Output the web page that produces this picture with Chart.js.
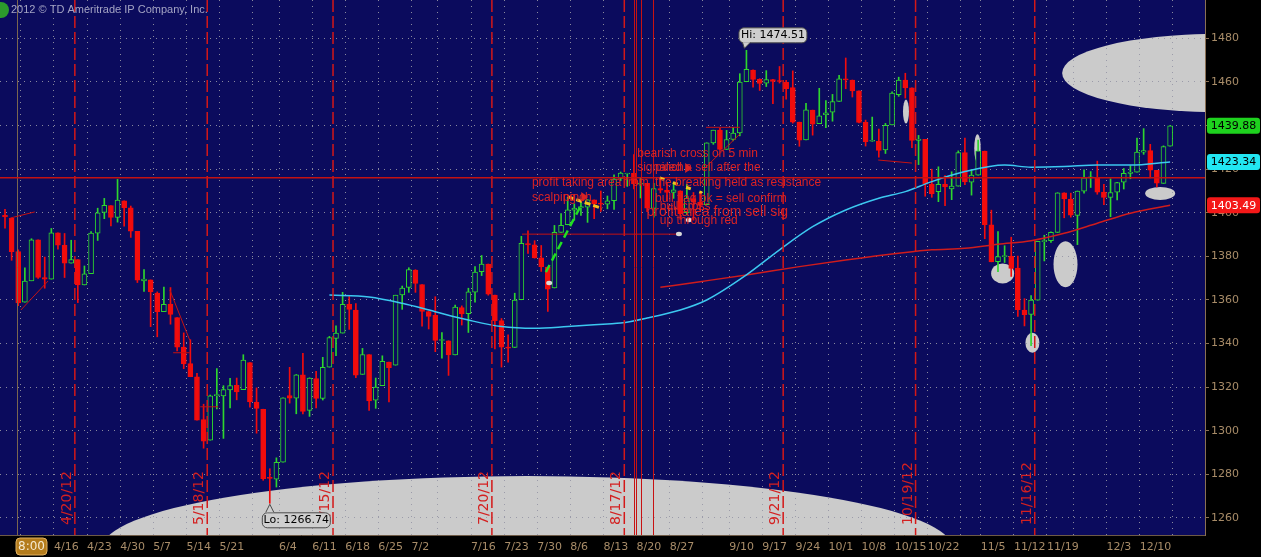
<!DOCTYPE html>
<html>
<head>
<meta charset="utf-8">
<script src="https://cdn.jsdelivr.net/npm/chart.js@4.4.0/dist/chart.umd.min.js"></script>
<style>
  html, body { margin: 0; padding: 0; background: #000; }
  #wrap { width: 1261px; height: 557px; }
</style>
</head>
<body>
<div id="wrap"><canvas id="spxChart" width="1261" height="557"></canvas></div>
<script>
// ---- daily bars (one entry per trading day) ----
const dates = [
  '4/5','4/9','4/10','4/11','4/12','4/13','4/16','4/17','4/18','4/19','4/20','4/23','4/24','4/25','4/26','4/27','4/30',
  '5/1','5/2','5/3','5/4','5/7','5/8','5/9','5/10','5/11','5/14','5/15','5/16','5/17','5/18','5/21','5/22','5/23','5/24','5/25',
  '5/29','5/30','5/31','6/1','6/4','6/5','6/6','6/7','6/8','6/11','6/12','6/13','6/14','6/15','6/18','6/19','6/20','6/21','6/22',
  '6/25','6/26','6/27','6/28','6/29','7/2','7/3','7/5','7/6','7/9','7/10','7/11','7/12','7/13','7/16','7/17','7/18','7/19','7/20',
  '7/23','7/24','7/25','7/26','7/27','7/30','7/31','8/1','8/2','8/3','8/6','8/7','8/8','8/9','8/10','8/13','8/14','8/15','8/16','8/17',
  '8/20','8/21','8/22','8/23','8/24','8/27','8/28','8/29','8/30','8/31','9/4','9/5','9/6','9/7','9/10','9/11','9/12','9/13','9/14',
  '9/17','9/18','9/19','9/20','9/21','9/24','9/25','9/26','9/27','9/28','10/1','10/2','10/3','10/4','10/5','10/8','10/9','10/10','10/11','10/12',
  '10/15','10/16','10/17','10/18','10/19','10/22','10/23','10/24','10/25','10/26','10/31','11/1','11/2','11/5','11/6','11/7','11/8','11/9',
  '11/12','11/13','11/14','11/15','11/16','11/19','11/20','11/21','11/23','11/26','11/27','11/28','11/29','11/30',
  '12/3','12/4','12/5','12/6','12/7','12/10','12/11','12/12','12/13','12/14','12/17','12/18'
];
const openP = [
  1398.8,1397.5,1382.2,1359.0,1368.8,1387.6,1370.3,1369.6,1390.8,1385.1,1376.9,1378.5,1366.9,1372.1,1390.6,1400.2,1403.3,
  1397.9,1405.5,1402.3,1391.5,1368.8,1369.2,1363.2,1354.6,1358.1,1351.9,1338.4,1330.8,1324.8,1305.1,1295.7,1316.1,1316.0,1318.7,1320.8,
  1318.9,1331.3,1313.1,1309.9,1278.3,1277.8,1285.6,1316.1,1315.0,1325.7,1309.4,1324.0,1314.9,1329.2,1342.4,1344.8,1358.0,1355.4,1325.9,
  1334.9,1314.1,1320.7,1331.5,1330.1,1362.3,1365.8,1373.7,1367.1,1354.7,1353.0,1341.4,1341.3,1334.8,1356.5,1353.7,1363.6,1373.0,1376.5,
  1362.3,1350.5,1338.4,1338.2,1360.1,1385.9,1385.3,1379.3,1375.1,1365.5,1391.0,1394.5,1401.2,1402.3,1402.6,1405.9,1404.4,1403.9,1405.6,1415.8,
  1417.8,1418.1,1413.1,1413.5,1402.0,1411.1,1410.4,1409.3,1410.1,1400.1,1406.5,1404.9,1403.7,1432.1,1437.9,1429.1,1433.6,1436.6,1460.1,
  1465.4,1461.2,1459.5,1461.1,1460.3,1459.8,1457.4,1441.6,1433.4,1447.1,1440.9,1445.0,1446.1,1451.1,1461.4,1460.9,1455.9,1441.5,1432.8,1432.8,
  1428.8,1440.3,1454.2,1460.9,1457.3,1433.2,1433.7,1413.2,1409.7,1413.0,1411.0,1412.2,1427.6,1414.0,1417.3,1428.3,1394.5,1377.6,
  1379.9,1380.0,1374.6,1355.4,1353.4,1359.9,1386.8,1387.2,1391.0,1409.2,1406.3,1398.8,1409.9,1416.0,
  1416.3,1409.5,1407.1,1409.4,1414.0,1418.1,1418.6,1427.8,1428.5,1419.5,1413.5,1430.5
];
const highP = [
  1401.6,1397.5,1383.0,1374.7,1388.1,1387.6,1379.7,1392.8,1390.8,1390.5,1387.4,1378.5,1375.6,1391.4,1402.1,1406.6,1403.3,
  1415.3,1405.5,1403.1,1391.5,1373.9,1369.2,1363.7,1365.9,1365.7,1351.9,1344.9,1341.8,1326.4,1312.2,1316.4,1328.5,1320.7,1324.1,1324.2,
  1334.9,1331.3,1319.7,1309.9,1282.6,1287.6,1315.1,1329.1,1325.8,1335.5,1324.3,1327.3,1333.7,1343.3,1348.2,1363.5,1361.6,1358.3,1337.8,
  1334.9,1324.2,1334.4,1331.5,1362.2,1366.4,1374.8,1373.9,1367.1,1354.9,1361.5,1345.0,1341.3,1357.7,1357.3,1365.4,1375.3,1380.4,1376.5,
  1362.3,1351.5,1344.0,1363.1,1389.2,1391.7,1387.2,1385.0,1375.1,1394.2,1399.6,1407.1,1404.1,1406.0,1406.0,1405.9,1410.0,1407.7,1417.4,1418.7,
  1418.1,1426.7,1416.1,1413.5,1413.5,1416.2,1413.6,1414.0,1410.1,1413.1,1409.3,1408.8,1432.1,1437.9,1438.7,1437.8,1439.2,1463.8,1474.51,
  1465.6,1461.5,1465.2,1461.2,1467.1,1460.7,1465.1,1441.6,1450.2,1447.1,1457.1,1451.5,1454.3,1463.1,1471.0,1460.9,1455.9,1442.5,1443.9,1438.4,
  1441.0,1455.5,1462.2,1464.0,1457.3,1435.5,1433.7,1420.0,1421.1,1417.1,1418.8,1428.4,1434.3,1419.9,1433.4,1428.3,1401.2,1391.4,
  1384.9,1388.8,1380.1,1360.6,1362.0,1386.9,1389.7,1391.3,1409.2,1409.2,1409.0,1410.0,1419.7,1418.9,
  1423.7,1413.1,1415.6,1414.0,1420.3,1421.6,1434.3,1438.6,1431.4,1419.5,1430.7,1440.0
];
const lowP = [
  1392.9,1378.2,1357.4,1359.0,1368.8,1369.9,1365.4,1369.6,1383.3,1370.3,1376.9,1358.8,1366.9,1372.1,1387.3,1397.3,1394.0,
  1395.7,1393.9,1388.7,1368.0,1363.9,1347.8,1343.1,1354.6,1348.9,1336.6,1328.5,1324.8,1304.9,1292.0,1295.7,1310.0,1296.5,1310.5,1314.2,
  1318.9,1310.8,1298.9,1277.3,1266.74,1274.2,1285.6,1312.7,1307.8,1307.7,1306.6,1310.5,1314.1,1329.2,1334.5,1344.8,1346.5,1324.4,1325.9,
  1309.3,1310.3,1320.7,1313.3,1330.1,1355.7,1363.5,1363.5,1348.0,1346.7,1336.3,1333.3,1325.4,1334.8,1348.5,1345.1,1359.0,1371.2,1362.2,
  1337.6,1329.2,1331.5,1338.2,1360.1,1381.4,1379.2,1373.1,1354.7,1365.5,1391.0,1394.5,1396.6,1398.8,1395.6,1397.3,1400.6,1401.8,1401.5,1414.7,
  1412.1,1410.9,1406.8,1400.5,1398.0,1409.1,1405.6,1406.6,1397.0,1399.0,1396.6,1401.3,1403.7,1431.4,1428.9,1429.1,1433.0,1435.3,1460.1,
  1457.6,1456.1,1457.9,1450.0,1459.5,1452.1,1441.1,1430.5,1433.4,1435.6,1440.9,1439.0,1442.0,1451.1,1456.9,1453.1,1441.2,1430.6,1432.8,1425.5,
  1427.2,1440.3,1453.4,1452.6,1429.9,1422.1,1407.6,1407.1,1405.1,1403.3,1406.0,1412.2,1412.9,1408.1,1417.3,1388.1,1377.5,1373.0,
  1377.2,1370.8,1352.5,1348.1,1339.0,1359.9,1377.9,1386.4,1391.0,1397.7,1398.0,1385.4,1409.0,1411.6,
  1408.5,1403.7,1398.2,1405.9,1410.9,1415.6,1418.6,1426.8,1416.0,1411.9,1413.5,1430.5
];
const closeP = [
  1398.1,1382.2,1358.6,1368.7,1387.6,1370.3,1369.6,1390.8,1385.1,1376.9,1378.5,1366.9,1372.0,1390.7,1400.0,1403.4,1397.9,
  1405.8,1402.3,1391.6,1369.1,1369.6,1363.7,1354.6,1358.0,1353.4,1338.4,1330.7,1324.8,1304.9,1295.2,1316.0,1316.6,1318.9,1320.7,1317.8,
  1332.4,1313.3,1310.3,1278.0,1278.2,1285.5,1315.1,1315.0,1325.7,1308.9,1324.2,1314.9,1329.1,1342.8,1344.8,1358.0,1355.7,1325.5,1335.0,
  1313.7,1320.0,1331.9,1329.0,1362.2,1365.5,1374.0,1367.6,1354.7,1352.5,1341.5,1341.5,1334.8,1356.8,1353.6,1363.7,1372.8,1376.5,1362.7,
  1350.5,1338.3,1337.9,1360.0,1386.0,1385.3,1379.3,1375.3,1365.0,1391.0,1394.2,1401.4,1402.2,1402.8,1405.9,1404.1,1403.9,1405.5,1415.5,1418.2,
  1418.1,1413.2,1413.5,1402.1,1411.1,1410.4,1409.3,1410.5,1399.5,1406.6,1404.9,1403.4,1432.1,1437.9,1429.1,1433.6,1436.6,1460.0,1465.8,
  1461.2,1459.3,1461.1,1460.3,1460.2,1456.9,1441.6,1433.3,1447.2,1440.7,1444.5,1445.8,1451.0,1461.4,1460.9,1455.9,1441.5,1432.6,1432.8,1428.6,
  1440.1,1454.9,1460.9,1457.3,1433.2,1433.8,1413.1,1408.8,1413.0,1411.9,1412.2,1427.6,1414.2,1417.3,1428.4,1394.5,1377.5,1379.9,
  1380.0,1374.5,1355.5,1353.3,1359.9,1386.9,1387.2,1391.0,1409.2,1406.3,1398.9,1409.9,1416.0,1416.2,
  1409.5,1407.1,1409.3,1413.9,1418.1,1418.6,1427.8,1428.5,1419.5,1413.6,1430.4,1439.88
];

// ---- moving averages (bar index, value) ----
const sma50Idx = [49, 55, 60, 65, 70, 75, 80, 85, 91, 93, 97, 102, 106, 112, 117, 122, 127, 132, 136, 140, 145, 151, 155, 160, 165, 170, 176];
const sma50Val = [1362.3, 1361.4, 1358.5, 1354.6, 1350.8, 1347.8, 1347.0, 1347.8, 1349.0, 1349.4, 1351.7, 1355.4, 1360.0, 1371.5, 1383.0, 1393.6, 1401.3, 1406.7, 1409.7, 1414.3, 1418.9, 1421.9, 1420.9, 1421.2, 1421.9, 1421.9, 1423.34];
const sma100Idx = [99, 105, 112, 120, 127, 135, 140, 145, 150, 155, 160, 165, 170, 176];
const sma100Val = [1365.8, 1368.4, 1371.5, 1375.3, 1378.3, 1381.4, 1383.0, 1383.7, 1385.6, 1387.2, 1390.6, 1395.2, 1399.8, 1403.49];

// ---- axes ----
const yTicks = [1260, 1280, 1300, 1320, 1340, 1360, 1380, 1400, 1420, 1440, 1460, 1480];
const weekStart = [1, 6, 11, 16, 21, 26, 31, 36, 40, 45, 50, 55, 60, 64, 69, 74, 79, 84, 89, 94, 99, 104, 108, 113, 118, 123, 128, 133, 138, 143, 146, 151, 156, 160, 165, 170, 175];
const weekLabels = ['', '4/16', '4/23', '4/30', '5/7', '5/14', '5/21', '', '6/4', '6/11', '6/18', '6/25', '7/2', '', '7/16', '7/23', '7/30', '8/6', '8/13', '8/20', '8/27', '', '9/10', '9/17', '9/24', '10/1', '10/8', '10/15', '10/22', '', '11/5', '11/12', '11/19', '', '12/3', '12/10', ''];

// option expiration fridays (bar index) marked with dashed lines
const expiryIdx = [10, 30, 49, 73, 93, 117, 137, 155];
const expiryLabels = ['4/20/12', '5/18/12', '6/15/12', '7/20/12', '8/17/12', '9/21/12', '10/19/12', '11/16/12'];

const NAVY = '#0b0b5d';
const UP = '#2ed62e';
const DOWN = '#f20c0c';
const RED_INK = '#dc2323';
const TICK_SHIFT = 1.4;

function isUp(i) { return closeP[i] >= openP[i]; }

// ---- drawings on top of the price chart ----
const ellipses = [
  { i: 78.9, v: 1246.2, rx: 425, ry: 72 },
  { i: 182.8, v: 1464.1, rx: 153, ry: 39 },
  { i: 136.1, v: 1446.4, rx: 3, ry: 12 },
  { i: 146.9, v: 1429.6, rx: 3.2, ry: 14 },
  { i: 150.7, v: 1372.2, rx: 11.5, ry: 10 },
  { i: 160.2, v: 1376.4, rx: 12, ry: 23 },
  { i: 155.2, v: 1340.4, rx: 7, ry: 10 },
  { i: 174.5, v: 1408.9, rx: 15, ry: 6.5 }
];
const redLines = [
  [0.8, 1397.6, 4.5, 1400.4],
  [2.4, 1355.4, 6.5, 1368.7],
  [24.9, 1364.6, 27.9, 1341.6],
  [25.4, 1335.8, 27.9, 1335.8],
  [29.5, 1311.0, 32.2, 1311.0],
  [78.1, 1390.2, 102, 1390.2],
  [105.9, 1439.2, 111, 1439.2],
  [105.4, 1419.6, 111, 1436.1],
  [131.9, 1424.2, 137, 1422.8]
];
const notes = [
  { t: 'profit taking area from', i: 79.6, v: 1413.8, s: 12 },
  { t: 'scalping', i: 79.6, v: 1407.1, s: 12 },
  { t: 'pinch', i: 84.3, v: 1407.1, s: 12 },
  { t: 'bearish cross on 5 min', i: 95.5, v: 1427.3, s: 12 },
  { t: 'signaled a sell after the', i: 95.5, v: 1420.7, s: 12 },
  { t: 'pinch', i: 98.2, v: 1420.7, s: 12 },
  { t: 'the breaking held as resistance', i: 98.2, v: 1413.8, s: 12 },
  { t: 'bull flag bk = sell confirm', i: 98.2, v: 1406.6, s: 12 },
  { t: 'bull cross', i: 98.9, v: 1402.8, s: 12 },
  { t: 'profit area from sell sig', i: 96.9, v: 1400.5, s: 14 },
  { t: 'up through red', i: 98.9, v: 1396.2, s: 12 }
];

function rrect(ctx, x, y, w, h, r) {
  ctx.beginPath();
  ctx.moveTo(x + r, y);
  ctx.arcTo(x + w, y, x + w, y + h, r);
  ctx.arcTo(x + w, y + h, x, y + h, r);
  ctx.arcTo(x, y + h, x, y, r);
  ctx.arcTo(x, y, x + w, y, r);
  ctx.closePath();
}

const tosOverlay = {
  id: 'tosOverlay',
  beforeDraw(chart) {
    const { ctx, chartArea: a, scales: { x, y } } = chart;
    ctx.save();
    ctx.fillStyle = '#000';
    ctx.fillRect(0, 0, chart.width, chart.height);
    ctx.fillStyle = NAVY;
    ctx.fillRect(a.left, a.top, a.right - a.left, a.bottom - a.top);
    ctx.beginPath();
    ctx.rect(a.left, a.top, a.right - a.left, a.bottom - a.top);
    ctx.clip();
    ctx.fillStyle = '#cbcbcb';
    ellipses.forEach(e => {
      ctx.beginPath();
      ctx.ellipse(x.getPixelForValue(e.i), y.getPixelForValue(e.v), e.rx, e.ry, 0, 0, Math.PI * 2);
      ctx.fill();
    });
    ctx.restore();
  },
  afterDatasetsDraw(chart) {
    const { ctx, chartArea: a, scales: { x, y } } = chart;
    const X = v => x.getPixelForValue(v);
    const Y = v => y.getPixelForValue(v);
    ctx.save();
    ctx.beginPath();
    ctx.rect(a.left, a.top, a.right - a.left, a.bottom - a.top);
    ctx.clip();

    // left time marker
    ctx.strokeStyle = '#7a6650';
    ctx.lineWidth = 1;
    ctx.beginPath(); ctx.moveTo(Math.round(X(1.8)) + 0.5, a.top); ctx.lineTo(Math.round(X(1.8)) + 0.5, a.bottom); ctx.stroke();

    // expiration dashed lines + rotated dates
    ctx.strokeStyle = '#d41818';
    ctx.lineWidth = 1.5;
    ctx.setLineDash([12, 4]);
    expiryIdx.forEach(i => {
      const px = X(i + 0.55);
      ctx.beginPath(); ctx.moveTo(px, a.top); ctx.lineTo(px, a.bottom); ctx.stroke();
    });
    ctx.setLineDash([]);
    ctx.fillStyle = '#d42020';
    ctx.font = '14px "DejaVu Sans", sans-serif';
    ctx.textBaseline = 'middle';
    ctx.textAlign = 'left';
    expiryIdx.forEach((i, k) => {
      ctx.save();
      ctx.translate(X(i + 0.55) - 7.5, a.bottom - 10);
      ctx.rotate(-Math.PI / 2);
      ctx.fillText(expiryLabels[k], 0, 0);
      ctx.restore();
    });

    // solid marker lines around 8/17
    ctx.strokeStyle = '#c81212';
    ctx.lineWidth = 1;
    [95.05, 95.3, 96.0, 97.9].forEach(i => {
      const px = Math.round(X(i)) + 0.5;
      ctx.beginPath(); ctx.moveTo(px, a.top); ctx.lineTo(px, a.bottom); ctx.stroke();
    });

    // horizontal resistance line
    ctx.strokeStyle = '#c41212';
    ctx.lineWidth = 1.5;
    ctx.beginPath(); ctx.moveTo(a.left, Y(1416.1)); ctx.lineTo(a.right, Y(1416.1)); ctx.stroke();

    ctx.lineWidth = 1;
    redLines.forEach(l => {
      ctx.beginPath(); ctx.moveTo(X(l[0]), Y(l[1])); ctx.lineTo(X(l[2]), Y(l[3])); ctx.stroke();
    });

    // green dashed trend + yellow "pinch" marks
    ctx.strokeStyle = '#22e022';
    ctx.lineWidth = 2.5;
    ctx.setLineDash([8, 5]);
    ctx.beginPath(); ctx.moveTo(X(81.7), Y(1372.8)); ctx.lineTo(X(87.2), Y(1404.5)); ctx.stroke();
    ctx.strokeStyle = '#f2c21c';
    ctx.lineWidth = 3;
    ctx.setLineDash([6, 3]);
    ctx.beginPath(); ctx.moveTo(X(85.0), Y(1407.4)); ctx.lineTo(X(90.2), Y(1402.0)); ctx.stroke();
    ctx.setLineDash([5, 9]);
    ctx.beginPath(); ctx.moveTo(X(98.9), Y(1416.0)); ctx.lineTo(X(105.3), Y(1409.1)); ctx.stroke();
    ctx.setLineDash([]);

    // small markers
    ctx.fillStyle = '#d8d8d8';
    [[82.2, 1367.8], [101.8, 1390.3], [103.3, 1396.7]].forEach(p => {
      ctx.beginPath(); ctx.ellipse(X(p[0]), Y(p[1]), 3, 2.2, 0, 0, Math.PI * 2); ctx.fill();
    });

    // notes
    ctx.fillStyle = RED_INK;
    ctx.textAlign = 'left';
    ctx.textBaseline = 'middle';
    notes.forEach(n => {
      ctx.font = n.s + 'px "Liberation Sans", Arial, sans-serif';
      ctx.fillText(n.t, X(n.i), Y(n.v));
    });
    [[87.5, 1407.2], [103.2, 1420.5]].forEach(p => {
      const px = X(p[0]), py = Y(p[1]);
      ctx.beginPath(); ctx.moveTo(px - 3, py - 5); ctx.lineTo(px + 4, py); ctx.lineTo(px - 3, py + 5); ctx.closePath(); ctx.fill();
    });
    ctx.restore();
  },
  afterDraw(chart) {
    const { ctx, chartArea: a, scales: { x, y } } = chart;
    ctx.save();

    // Hi / Lo callouts
    const hiI = highP.indexOf(Math.max(...highP));
    const loI = lowP.indexOf(Math.min(...lowP));
    const callout = (txt, px, py, up) => {
      const bx = px - 8, by = up ? py - 23 : py + 9;
      ctx.fillStyle = '#cfcfcf';
      ctx.strokeStyle = '#4a4a4a';
      ctx.lineWidth = 1;
      rrect(ctx, bx + 0.5, by + 0.5, 68, 15, 5);
      ctx.fill(); ctx.stroke();
      ctx.beginPath();
      if (up) { ctx.moveTo(bx + 4, by + 15); ctx.lineTo(px - 2, py - 2); ctx.lineTo(bx + 12, by + 15); }
      else { ctx.moveTo(bx + 4, by); ctx.lineTo(px, py + 1); ctx.lineTo(bx + 12, by); }
      ctx.fill(); ctx.stroke();
      ctx.fillStyle = '#000';
      ctx.font = '11px "DejaVu Sans", sans-serif';
      ctx.textAlign = 'center';
      ctx.textBaseline = 'middle';
      ctx.fillText(txt, bx + 34.5, by + 8);
    };
    callout('Hi: ' + highP[hiI].toFixed(2), x.getPixelForValue(hiI), y.getPixelForValue(highP[hiI]), true);
    callout('Lo: ' + lowP[loI].toFixed(2), x.getPixelForValue(loI), y.getPixelForValue(lowP[loI]), false);

    // price bubbles on the axis
    const bubbles = [
      { v: closeP[closeP.length - 1], bg: '#1ed21e', fg: '#000' },
      { v: sma50Val[sma50Val.length - 1], bg: '#22e6f2', fg: '#000' },
      { v: sma100Val[sma100Val.length - 1], bg: '#f41818', fg: '#fff' }
    ];
    ctx.font = '11px "DejaVu Sans", sans-serif';
    ctx.textAlign = 'center';
    ctx.textBaseline = 'middle';
    bubbles.forEach(b => {
      const py = y.getPixelForValue(b.v);
      ctx.fillStyle = b.bg;
      rrect(ctx, a.right + 2, py - 8, 53, 16, 3);
      ctx.fill();
      ctx.fillStyle = b.fg;
      ctx.fillText(b.v.toFixed(2), a.right + 28.5, py + 0.5);
    });

    // session box
    ctx.fillStyle = '#b47c1c';
    rrect(ctx, 16, 538, 31, 17, 4);
    ctx.fill();
    ctx.strokeStyle = '#e0b060';
    ctx.stroke();
    ctx.fillStyle = '#f6ead0';
    ctx.font = '12px "DejaVu Sans", sans-serif';
    ctx.fillText('8:00', 31.5, 547);

    // copyright
    ctx.fillStyle = '#2c9a2c';
    ctx.beginPath(); ctx.arc(1, 10, 8, 0, Math.PI * 2); ctx.fill();
    ctx.fillStyle = '#a4a4c4';
    ctx.font = '11px "Liberation Sans", Arial, sans-serif';
    ctx.textAlign = 'left';
    ctx.fillText('2012 \u00a9 TD Ameritrade IP Company, Inc.', 11, 10);
    ctx.restore();
  }
};

Chart.defaults.font.family = '"DejaVu Sans", sans-serif';

const bodyData = dates.map((d, i) => ({ x: i, y: [openP[i], closeP[i]] }));
const wickData = dates.map((d, i) => ({ x: i, y: [lowP[i], highP[i]] }));

new Chart(document.getElementById('spxChart'), {
  type: 'bar',
  data: {
    datasets: [
      {
        type: 'line', data: sma50Idx.map((v, k) => ({ x: v, y: sma50Val[k] })),
        borderColor: '#3cc8f0', borderWidth: 1.5, pointRadius: 0, cubicInterpolationMode: 'monotone', order: 0
      },
      {
        type: 'line', data: sma100Idx.map((v, k) => ({ x: v, y: sma100Val[k] })),
        borderColor: '#d01c1c', borderWidth: 1.5, pointRadius: 0, cubicInterpolationMode: 'monotone', order: 0
      },
      {
        data: bodyData, order: 1, grouped: false, barThickness: 5, minBarLength: 1,
        borderWidth: 1, borderSkipped: false,
        backgroundColor: c => (c.dataIndex !== undefined && isUp(c.dataIndex)) ? NAVY : DOWN,
        borderColor: c => (c.dataIndex !== undefined && isUp(c.dataIndex)) ? UP : DOWN
      },
      {
        data: wickData, order: 2, grouped: false, barThickness: 1, borderWidth: 0,
        backgroundColor: c => (c.dataIndex !== undefined && isUp(c.dataIndex)) ? UP : DOWN
      }
    ]
  },
  options: {
    responsive: false,
    animation: false,
    devicePixelRatio: 1,
    layout: { padding: 0 },
    plugins: { legend: { display: false }, tooltip: { enabled: false } },
    scales: {
      x: {
        type: 'linear', min: -0.755, max: 181.27, offset: false,
        afterBuildTicks: s => { s.ticks = weekStart.map(i => ({ value: i + TICK_SHIFT })); },
        afterFit: s => { s.height = 22; s.paddingLeft = 0; s.paddingRight = 0; },
        grid: { color: 'rgba(150,150,165,0.9)', lineWidth: 1, drawTicks: false, offset: false },
        border: { color: '#6e5a46', dash: [1, 5] },
        ticks: {
          autoSkip: false, maxRotation: 0, align: 'start', padding: 6,
          color: '#a88c68', font: { size: 11 },
          callback: (v, k) => weekLabels[k]
        }
      },
      y: {
        position: 'right', min: 1252.2, max: 1497.6,
        afterBuildTicks: s => { s.ticks = yTicks.map(v => ({ value: v })); },
        afterFit: s => { s.width = 56; s.paddingTop = 0; s.paddingBottom = 0; },
        grid: { color: 'rgba(150,150,165,0.9)', lineWidth: 1, tickLength: 4, tickColor: '#8a7055', tickBorderDash: [] },
        border: { color: '#8a7055', dash: [1, 5] },
        ticks: { color: '#a88c68', font: { size: 11 }, padding: 2, callback: v => String(v) }
      }
    }
  },
  plugins: [tosOverlay]
});
</script>
</body>
</html>
